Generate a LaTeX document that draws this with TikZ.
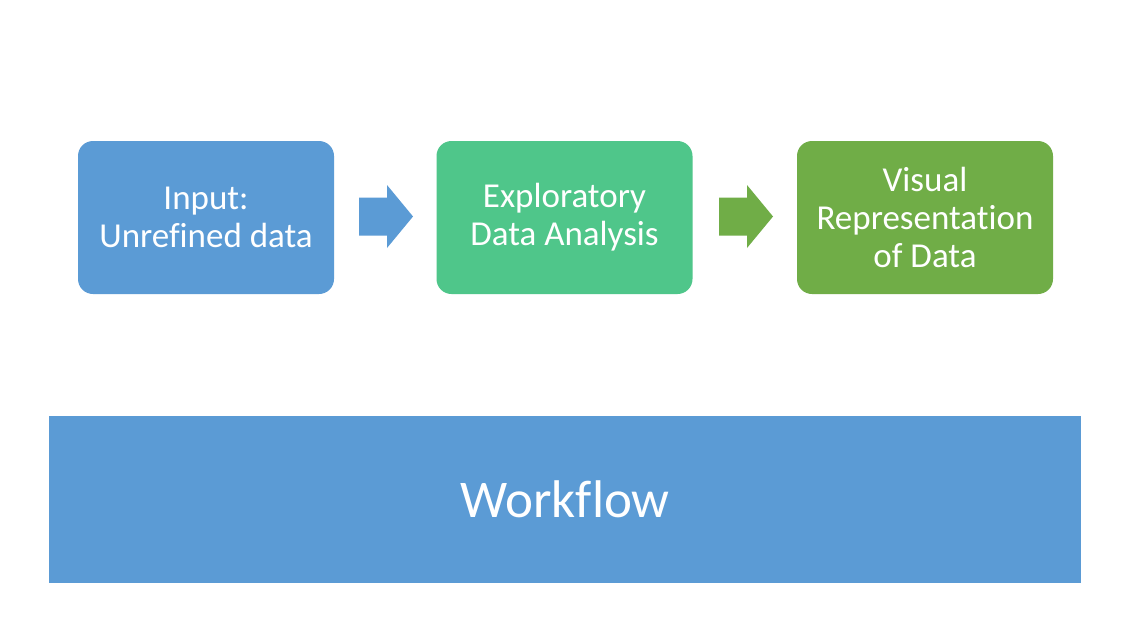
\documentclass[tikz,border=0pt]{standalone}
\usepackage{fontspec}
\setmainfont{Carlito}[Ligatures=NoCommon]
\definecolor{cblue}{HTML}{5B9BD5}
\definecolor{cgreenA}{HTML}{4FC68A}
\definecolor{cgreenB}{HTML}{70AD47}
\begin{document}
\begin{tikzpicture}[x=1pt,y=-1pt,
  stepbox/.style={rounded corners=15pt, minimum width=256pt, minimum height=153pt,
    inner sep=0pt, text=white, align=center, font=\fontsize{35}{38}\selectfont}]
\useasboundingbox (0,0) rectangle (1128,633);
\fill[white] (0,0) rectangle (1128,633);
\node[stepbox, fill=cblue] (b1) at (206,217.5) {Input:\\Unrefined data};
\node[stepbox, fill=cgreenA] (b2) at (564.5,217.5) {Exploratory\\Data Analysis};
\node[stepbox, fill=cgreenB] (b3) at (925,217.5) {Visual\\Representation\\of Data};
\coordinate (a1) at (359,216.5);
\coordinate (a2) at (719,216.5);
\fill[cblue] (a1) ++(0,-19) -- ++(28,0) -- ++(0,-12.5) -- ++(26,31.5) -- ++(-26,31.5) -- ++(0,-12.5) -- ++(-28,0) -- cycle;
\fill[cgreenB] (a2) ++(0,-19) -- ++(28,0) -- ++(0,-12.5) -- ++(26,31.5) -- ++(-26,31.5) -- ++(0,-12.5) -- ++(-28,0) -- cycle;
\node[fill=cblue, minimum width=1032pt, minimum height=167pt, inner sep=0pt,
  text=white, font=\fontsize{53}{60}\selectfont] (wf) at (565,499.5) {Workflow};
\end{tikzpicture}
\end{document}
